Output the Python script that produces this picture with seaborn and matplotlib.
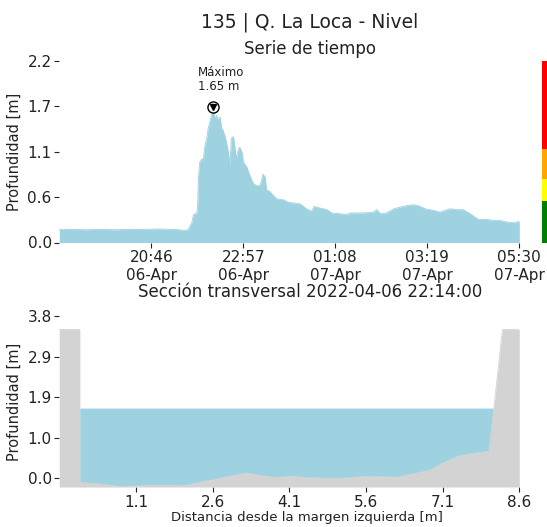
import numpy as np
import pandas as pd
import matplotlib
matplotlib.use("Agg")
import matplotlib.pyplot as plt
import seaborn as sns

# ---------------- data ----------------
times = [
    "2022-04-06 18:35", "2022-04-06 18:50", "2022-04-06 19:12", "2022-04-06 19:33",
    "2022-04-06 19:54", "2022-04-06 20:16", "2022-04-06 20:37", "2022-04-06 20:58",
    "2022-04-06 21:13", "2022-04-06 21:27", "2022-04-06 21:34", "2022-04-06 21:39",
    "2022-04-06 21:41", "2022-04-06 21:44", "2022-04-06 21:46", "2022-04-06 21:51",
    "2022-04-06 21:52", "2022-04-06 21:53", "2022-04-06 21:55", "2022-04-06 21:58",
    "2022-04-06 22:00", "2022-04-06 22:02", "2022-04-06 22:05", "2022-04-06 22:07",
    "2022-04-06 22:10", "2022-04-06 22:12", "2022-04-06 22:14", "2022-04-06 22:17",
    "2022-04-06 22:19", "2022-04-06 22:21", "2022-04-06 22:24", "2022-04-06 22:26",
    "2022-04-06 22:28", "2022-04-06 22:31", "2022-04-06 22:33", "2022-04-06 22:36",
    "2022-04-06 22:38", "2022-04-06 22:40", "2022-04-06 22:43", "2022-04-06 22:45",
    "2022-04-06 22:47", "2022-04-06 22:50", "2022-04-06 22:52", "2022-04-06 22:55",
    "2022-04-06 22:57", "2022-04-06 23:02", "2022-04-06 23:07", "2022-04-06 23:11",
    "2022-04-06 23:16", "2022-04-06 23:21", "2022-04-06 23:23", "2022-04-06 23:25",
    "2022-04-06 23:28", "2022-04-06 23:30", "2022-04-06 23:35", "2022-04-06 23:40",
    "2022-04-06 23:45", "2022-04-06 23:54", "2022-04-07 00:01", "2022-04-07 00:18",
    "2022-04-07 00:27", "2022-04-07 00:34", "2022-04-07 00:38", "2022-04-07 00:46",
    "2022-04-07 00:56", "2022-04-07 01:03", "2022-04-07 01:15", "2022-04-07 01:24",
    "2022-04-07 01:29", "2022-04-07 01:48", "2022-04-07 02:02", "2022-04-07 02:07",
    "2022-04-07 02:12", "2022-04-07 02:21", "2022-04-07 02:31", "2022-04-07 02:40",
    "2022-04-07 02:50", "2022-04-07 02:59", "2022-04-07 03:06", "2022-04-07 03:16",
    "2022-04-07 03:23", "2022-04-07 03:37", "2022-04-07 03:51", "2022-04-07 04:01",
    "2022-04-07 04:10", "2022-04-07 04:20", "2022-04-07 04:32", "2022-04-07 04:44",
    "2022-04-07 04:53", "2022-04-07 05:02", "2022-04-07 05:12", "2022-04-07 05:24",
    "2022-04-07 05:30",
]
depth = [
    0.16, 0.16, 0.155, 0.16,
    0.155, 0.16, 0.16, 0.165,
    0.16, 0.155, 0.145, 0.16,
    0.20, 0.25, 0.34, 0.36,
    0.45, 0.78, 0.98, 1.02,
    1.00, 1.16, 1.27, 1.39,
    1.49, 1.56, 1.65, 1.49,
    1.55, 1.49, 1.53, 1.39,
    1.37, 1.29, 1.22, 1.08,
    0.94, 1.27, 1.29, 1.16,
    1.02, 1.14, 1.16, 1.10,
    0.98, 0.92, 0.80, 0.72,
    0.69, 0.70, 0.76, 0.83,
    0.80, 0.64, 0.62, 0.57,
    0.53, 0.52, 0.49, 0.47,
    0.41, 0.38, 0.44, 0.42,
    0.40, 0.36, 0.35, 0.34,
    0.36, 0.36, 0.37, 0.40,
    0.35, 0.36, 0.41, 0.43,
    0.45, 0.46, 0.45, 0.41,
    0.40, 0.37, 0.41, 0.40,
    0.40, 0.35, 0.28, 0.28,
    0.27, 0.27, 0.25, 0.24,
    0.26,
]
max_time = "2022-04-06 22:14"
max_depth = 1.65

# alert levels (bands of the colour bar, in m)
alert_edges = [0.0, 0.51, 0.77, 1.14, 2.21]
alert_colors = ["green", "yellow", "orange", "red"]

# cross section
dist = [-0.4, 0.0, 0.0, 0.4, 0.82, 1.37, 2.02, 2.67, 3.26, 3.52, 3.85, 4.14,
        4.43, 5.02, 5.6, 6.22, 6.51, 6.84, 7.1, 7.43, 7.69, 8.01, 8.27, 8.6]
bed = [3.5, 3.5, -0.10, -0.14, -0.20, -0.17, -0.18, -0.02, 0.12, 0.06, 0.01, 0.05,
       0.01, -0.01, 0.04, 0.02, 0.10, 0.18, 0.35, 0.53, 0.58, 0.63, 3.5, 3.5]
water_level = 1.65
section_time = "2022-04-06 22:14:00"

# ---------------- style ----------------
sns.set_style("white")
plt.rcParams["font.family"] = ["DejaVu Sans"]
WATER = "#9ed2e0"
BED = "#d3d3d3"
TXT = "#222222"

fig = plt.figure(figsize=(5.47, 5.27), dpi=100)
W, H = 547, 527


def box(x0, y0, x1, y1):
    return [x0 / W, 1 - y1 / H, (x1 - x0) / W, (y1 - y0) / H]


ax1 = fig.add_axes(box(59.3, 61, 519.3, 242.5))
axc = fig.add_axes(box(541.7, 61, 560, 242.5))
ax2 = fig.add_axes(box(59.3, 316, 519.3, 487))

# ---------- time series ----------
df = pd.DataFrame({"t": pd.to_datetime(times), "d": depth})
sns.lineplot(data=df, x="t", y="d", ax=ax1, color=WATER, lw=0.6, estimator=None)
ax1.fill_between(df["t"], 0, df["d"], color=WATER, lw=0)
t0, t1 = df["t"].iloc[0], df["t"].iloc[-1]
ax1.set_xlim(t0, t1)
ymax1 = 2.21
ax1.set_ylim(0, ymax1)
yt = np.linspace(0, ymax1, 5)
ax1.set_yticks(yt)
ax1.set_yticklabels([f"{v:.1f}" for v in yt])
xt = pd.date_range(t0, t1, periods=6)[1:]
ax1.set_xticks(xt)
ax1.set_xticklabels([f"{t:%H:%M}\n{t:%d-%b}" for t in xt])
ax1.set_xlabel("")
ax1.set_ylabel("Profundidad [m]", fontsize=10.5, color=TXT)
mt = pd.Timestamp(max_time)
ax1.plot([mt], [max_depth], marker="o", ms=8, mfc="white", mec="black", mew=1.0, zorder=5)
ax1.plot([mt], [max_depth], marker="v", ms=4.5, color="black", zorder=6)
ax1.text(pd.Timestamp("2022-04-06 21:53"), 1.82, f"Máximo\n{max_depth:.2f} m",
         fontsize=8.5, color=TXT, ha="left", va="bottom", linespacing=1.1)

# colour bar of alert levels
for lo, hi, c in zip(alert_edges[:-1], alert_edges[1:], alert_colors):
    axc.bar(0, hi - lo, bottom=lo, width=1, color=c, lw=0, align="edge")
axc.set_xlim(0, 1)
axc.set_ylim(0, ymax1)
axc.axis("off")

# ---------- cross section ----------
x = np.array(dist)
b = np.array(bed)
ymin2, ymax2 = -0.21, 3.82
sns.lineplot(x=x, y=b, ax=ax2, color=BED, lw=0.6, sort=False, estimator=None)
ax2.fill_between(x, ymin2, b, color=BED, lw=0)
ax2.fill_between(x, b, water_level, where=b <= water_level, interpolate=True,
                 color=WATER, lw=0)
ax2.set_xlim(-0.4, 8.6)
ax2.set_ylim(ymin2, ymax2)
yt2 = np.linspace(0, ymax2, 5)
ax2.set_yticks(yt2)
ax2.set_yticklabels([f"{v:.1f}" for v in yt2])
xt2 = np.linspace(-0.4, 8.6, 7)[1:]
ax2.set_xticks(xt2)
ax2.set_xticklabels([f"{v:.1f}" for v in xt2])
ax2.set_ylabel("Profundidad [m]", fontsize=10.5, color=TXT)
ax2.set_xlabel("")

for ax in (ax1, ax2):
    for s in ax.spines.values():
        s.set_visible(False)
    ax.tick_params(axis="both", which="both", length=3.5, width=0.8, color=TXT,
                   labelsize=11, labelcolor=TXT, pad=2, bottom=True, left=True)

fig.text(310 / W, 1 - 22 / H, "135 | Q. La Loca - Nivel", ha="center", va="center",
         fontsize=13.5, color=TXT)
fig.text(310 / W, 1 - 49 / H, "Serie de tiempo", ha="center", va="center",
         fontsize=12, color=TXT)
fig.text(310 / W, 1 - 292 / H, f"Sección transversal {section_time}", ha="center",
         va="center", fontsize=12, color=TXT)
fig.text(307 / W, 1 - 518 / H, "Distancia desde la margen izquierda [m]", ha="center",
         va="center", fontsize=9.5, color=TXT)

fig.savefig("out.png", dpi=100)
